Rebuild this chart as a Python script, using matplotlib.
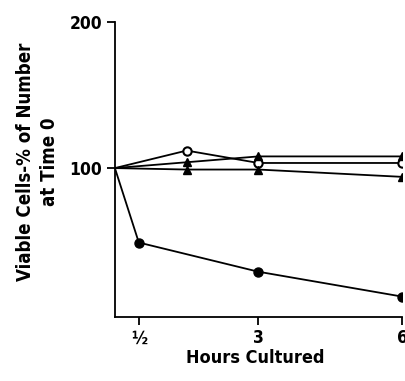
import matplotlib.pyplot as plt

# hours cultured and % viable cells for each series
hours = [0, 0.5, 3, 6]
filled_circle = [100, 49, 29, 12]

hours_b = [0, 1.5, 3, 6]
open_circle = [100, 112, 103.5, 103.5]
triangle_up = [100, 104, 108, 108]
triangle_low = [100, 99, 99, 94]

xticks = [0.5, 3, 6]
xticklabels = ['½', '3', '6']
yticks = [100, 200]

plt.rcParams['font.family'] = ['DejaVu Sans']
plt.rcParams['font.stretch'] = 'condensed'
plt.rcParams['font.weight'] = 'bold'

fig = plt.figure(figsize=(4.06, 3.81), dpi=100)
ax = fig.add_axes([0.283, 0.168, 0.707, 0.774])

lw = 1.3
ax.plot(hours, filled_circle, 'k-', lw=lw, marker='o', ms=6.5, markevery=[1, 2, 3])
ax.plot(hours_b, open_circle, 'k-', lw=lw, marker='o', ms=6, mfc='white', mew=1.5,
        markevery=[1, 2, 3])
ax.plot(hours_b, triangle_up, 'k-', lw=lw, marker='^', ms=6, markevery=[1, 2, 3])
ax.plot(hours_b, triangle_low, 'k-', lw=lw, marker='^', ms=6, markevery=[1, 2, 3])

ax.set_xlim(0, 6)
ax.set_ylim(-2, 200)
ax.spines['top'].set_visible(False)
ax.spines['right'].set_visible(False)
ax.spines['left'].set_linewidth(1.3)
ax.spines['bottom'].set_linewidth(1.3)

ax.set_xticks(xticks)
ax.set_xticklabels(xticklabels, fontsize=12.5, fontweight='bold')
ax.set_yticks(yticks)
ax.set_yticklabels([str(v) for v in yticks], fontsize=12.5, fontweight='bold')
ax.tick_params(length=6, width=1.3, pad=3)

fig.text(0.628, 0.06, 'Hours Cultured', fontsize=13, fontweight='bold',
         ha='center', va='center')
fig.text(0.092, 0.575, 'Viable Cells-% of Number\nat Time 0', fontsize=13.4,
         fontweight='bold', rotation=90, ha='center', va='center',
         multialignment='center', linespacing=1.35)

fig.savefig('out.png', dpi=100)
